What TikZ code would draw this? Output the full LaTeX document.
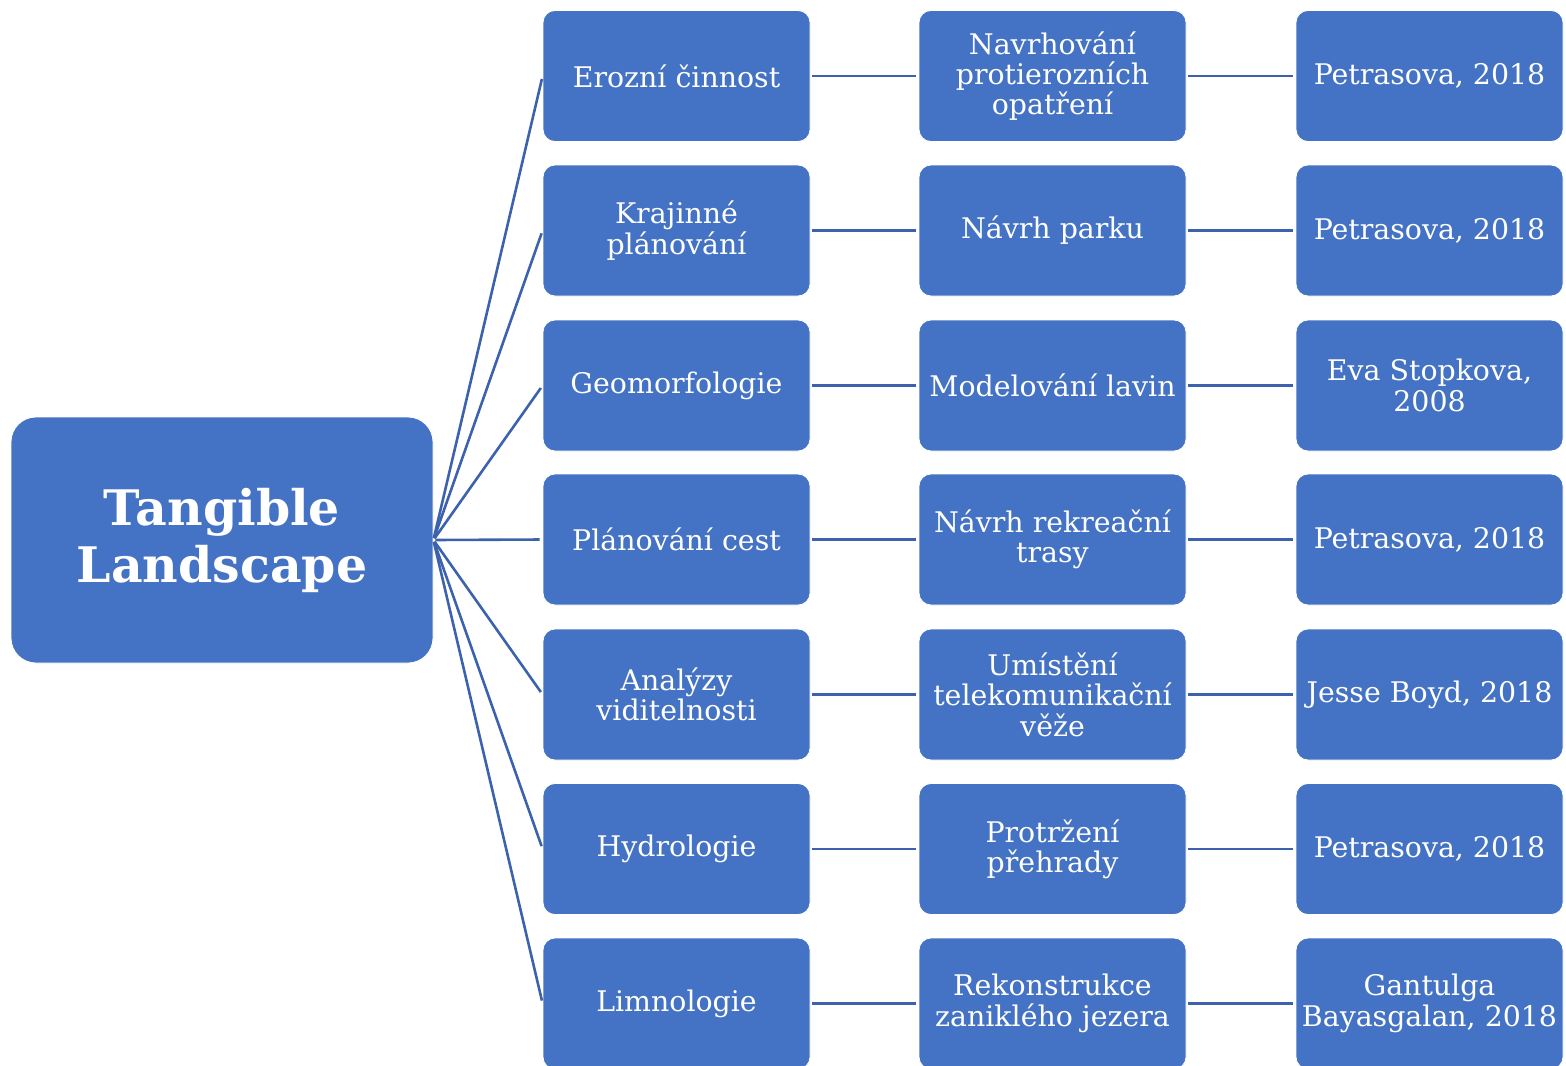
\documentclass[tikz,border=0pt]{standalone}
\usepackage{fontspec}
\setmainfont{DejaVu Serif}
\definecolor{boxblue}{HTML}{4472C4}
\definecolor{lineblue}{HTML}{3D62AD}
\begin{document}
\begin{tikzpicture}[x=0.5pt,y=-0.5pt,
  rootbox/.style={fill=boxblue, draw=white, line width=0.4pt, rounded corners=12.5pt,
    minimum width=211pt, minimum height=123pt, text=white, align=center,
    font=\fontsize{24.5}{28.5}\selectfont\bfseries, inner sep=0pt},
  itembox/.style={fill=boxblue, draw=white, line width=0.4pt, rounded corners=6pt,
    minimum width=133.5pt, minimum height=65.5pt, text=white, align=center,
    font=\fontsize{14.2}{15.2}\selectfont, inner sep=0pt},
  conn/.style={draw=lineblue, line width=1.3pt, shorten >=1.5pt, shorten <=1pt}]
\useasboundingbox (0,0) rectangle (1566,1065);
\node[rootbox] (root) at (222,540) {Tangible\\Landscape};
% rows
\node[itembox] (a1) at (676.5,76) {Erozní činnost};
\node[itembox] (a2) at (1052.5,76) {Navrhování\\protierozních\\opatření};
\node[itembox] (a3) at (1429.5,76) {Petrasova, 2018};
\node[itembox] (b1) at (676.5,230.5) {Krajinné\\plánování};
\node[itembox] (b2) at (1052.5,230.5) {Návrh parku};
\node[itembox] (b3) at (1429.5,230.5) {Petrasova, 2018};
\node[itembox] (c1) at (676.5,385.5) {Geomorfologie};
\node[itembox] (c2) at (1052.5,385.5) {Modelování lavin};
\node[itembox] (c3) at (1429.5,385.5) {Eva Stopkova,\\2008};
\node[itembox] (d1) at (676.5,539.5) {Plánování cest};
\node[itembox] (d2) at (1052.5,539.5) {Návrh rekreační\\trasy};
\node[itembox] (d3) at (1429.5,539.5) {Petrasova, 2018};
\node[itembox] (e1) at (676.5,694.5) {Analýzy\\viditelnosti};
\node[itembox] (e2) at (1052.5,694.5) {Umístění\\telekomunikační\\věže};
\node[itembox] (e3) at (1429.5,694.5) {Jesse Boyd, 2018};
\node[itembox] (f1) at (676.5,849) {Hydrologie};
\node[itembox] (f2) at (1052.5,849) {Protržení\\přehrady};
\node[itembox] (f3) at (1429.5,849) {Petrasova, 2018};
\node[itembox] (g1) at (676.5,1003.5) {Limnologie};
\node[itembox] (g2) at (1052.5,1003.5) {Rekonstrukce\\zaniklého jezera};
\node[itembox] (g3) at (1429.5,1003.5) {Gantulga\\Bayasgalan, 2018};
\foreach \r in {a,b,c,d,e,f,g}{
  \draw[conn] (root.east) -- (\r1.west);
  \draw[conn] (\r1.east) -- (\r2.west);
  \draw[conn] (\r2.east) -- (\r3.west);
}
\end{tikzpicture}
\end{document}
